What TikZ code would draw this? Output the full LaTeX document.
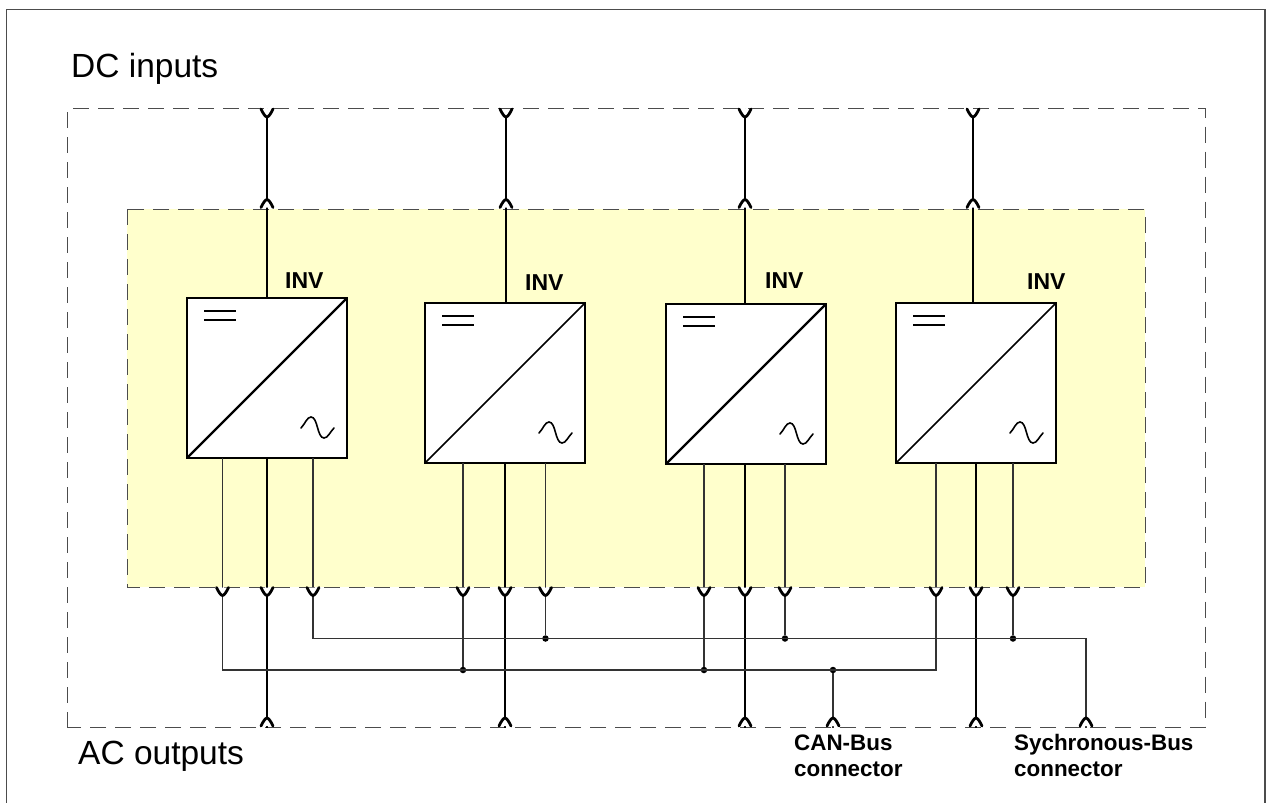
\documentclass[tikz,border=0pt]{standalone}
\usepackage{fontspec}
\setmainfont{Liberation Sans}
\definecolor{panelyellow}{HTML}{FFFFCC}
\tikzset{
  frameline/.style={line width=1.2pt,draw=black!70},
  dashbox/.style={line width=1pt,draw=black!70,dash pattern=on 16pt off 9pt},
  invbox/.style={draw=black,fill=white,line width=2.2pt,minimum width=160pt,minimum height=160pt,inner sep=0pt,outer sep=0pt},
  heavy/.style={line width=2.4pt,draw=black},
  medium/.style={line width=1.9pt,draw=black},
  thin wire/.style={line width=1.2pt,draw=black!80},
  junction/.style={circle,fill=black,inner sep=0pt,minimum size=6.5pt},
  biglabel/.style={inner sep=0pt,anchor=base west,font=\fontsize{33.5}{36}\selectfont},
  boldlabel/.style={inner sep=0pt,anchor=base west,font=\fontsize{23}{24}\selectfont\bfseries},
  smalllabel/.style={inner sep=0pt,anchor=base west,font=\fontsize{22.4}{24}\selectfont\bfseries},
  vmark/.pic={\draw[line width=2.8pt,line cap=round,fill=white] (-6,0.5) .. controls (-4,5) and (-1.5,8.5) .. (0,8.5) .. controls (1.5,8.5) and (4,5) .. (6,0.5);},
  amark/.pic={\draw[line width=2.8pt,line cap=round,fill=white] (-6,-1.5) .. controls (-4,-6) and (-1.5,-9.5) .. (0,-9.5) .. controls (1.5,-9.5) and (4,-6) .. (6,-1.5);},
  invsyms/.pic={
    \draw[line width=1.6pt] (17,13) -- (49,13) (17,22) -- (49,22);
    \draw[line width=1.6pt,line cap=round] (114,130) .. controls (118,126) and (120,119) .. (124,119) .. controls (131,119) and (130,140) .. (137,140) .. controls (141,140) and (143,134) .. (147,130);
  }
}
\begin{document}
\begin{tikzpicture}[x=1pt,y=-1pt]
\useasboundingbox (0,0) rectangle (1267,803);
\fill[white] (0,0) rectangle (1267,803);
\draw[frameline] (6.5,803) -- (6.5,9.5) -- (1265,9.5) -- (1265,803);
\draw[dashbox] (67,727.5) -- (67,108.5) -- (1205,108.5) -- (1205,727.5) -- cycle;
\fill[panelyellow] (127,209) rectangle (1145,587);
\draw[dashbox] (127,209) rectangle (1145,587);

% inverter boxes
\node[invbox] (b1) at (267,378) {};
\node[invbox] (b2) at (505,383) {};
\node[invbox] (b3) at (746,384) {};
\node[invbox] (b4) at (976,383) {};
\draw[line width=2.2pt] (b1.south west) -- (b1.north east);
\draw[line width=1.5pt] (b2.south west) -- (b2.north east);
\draw[line width=2.2pt] (b3.south west) -- (b3.north east);
\draw[line width=1.5pt] (b4.south west) -- (b4.north east);
\pic at (b1.north west) {invsyms};
\pic at (b2.north west) {invsyms};
\pic at (b3.north west) {invsyms};
\pic at (b4.north west) {invsyms};

% connector points
\foreach \n/\x in {1/267,2/506,3/745,4/973}{
  \coordinate (ti\n) at (\x,108.5);
  \coordinate (tm\n) at (\x,209);
}
\foreach \n/\x in {1/267,2/505,3/745,4/976}{
  \coordinate (bm\n) at (\x,587);
  \coordinate (be\n) at (\x,727.5);
}
\coordinate (can1) at (222.5,587);
\coordinate (can2) at (463,587);
\coordinate (can3) at (704,587);
\coordinate (can4) at (936,587);
\coordinate (syn1) at (313,587);
\coordinate (syn2) at (545.5,587);
\coordinate (syn3) at (785,587);
\coordinate (syn4) at (1013,587);
\coordinate (canout) at (833,727.5);
\coordinate (synout) at (1086,727.5);
\node[junction] (jc2) at (463,670) {};
\node[junction] (jc3) at (704,670) {};
\node[junction] (jc4) at (833,670) {};
\node[junction] (js2) at (545.5,638.5) {};
\node[junction] (js3) at (785,638.5) {};
\node[junction] (js4) at (1013,638.5) {};

% DC side
\draw[heavy] (ti1) -- (tm1); \draw[medium] (tm1) -- (tm1 |- b1.north);
\draw[heavy] (ti2) -- (tm2); \draw[medium] (tm2) -- (tm2 |- b2.north);
\draw[heavy] (ti3) -- (tm3); \draw[medium] (tm3) -- (tm3 |- b3.north);
\draw[heavy] (ti4) -- (tm4); \draw[medium] (tm4) -- (tm4 |- b4.north);
% AC side
\draw[heavy] (bm1 |- b1.south) -- (be1);
\draw[heavy] (bm2 |- b2.south) -- (be2);
\draw[heavy] (bm3 |- b3.south) -- (be3);
\draw[heavy] (bm4 |- b4.south) -- (be4);
% bus wires inside the panel
\draw[thin wire] (can1 |- b1.south) -- (can1);
\draw[thin wire] (syn1 |- b1.south) -- (syn1);
\draw[thin wire] (can2 |- b2.south) -- (can2);
\draw[thin wire] (syn2 |- b2.south) -- (syn2);
\draw[thin wire] (can3 |- b3.south) -- (can3);
\draw[thin wire] (syn3 |- b3.south) -- (syn3);
\draw[thin wire] (can4 |- b4.south) -- (can4);
\draw[thin wire] (syn4 |- b4.south) -- (syn4);
% CAN bus
\draw[thin wire] (can1) -- (can1 |- jc2) -- (jc2.center) -- (jc3.center) -- (jc4.center) -- (can4 |- jc4) -- (can4);
\draw[thin wire] (can2) -- (jc2);
\draw[thin wire] (can3) -- (jc3);
\draw[thin wire] (jc4) -- (canout);
% synchronous bus
\draw[thin wire] (syn1) -- (syn1 |- js2) -- (js2.center) -- (js3.center) -- (js4.center) -- (synout |- js4) -- (synout);
\draw[thin wire] (syn2) -- (js2);
\draw[thin wire] (syn3) -- (js3);
\draw[thin wire] (syn4) -- (js4);

% connector symbols
\foreach \n in {1,2,3,4}{
  \pic at (ti\n) {vmark};
  \pic at (tm\n) {amark};
  \pic at (bm\n) {vmark};
  \pic at (be\n) {amark};
}
\foreach \c in {can1,can2,can3,can4,syn1,syn2,syn3,syn4}{\pic at (\c) {vmark};}
\pic at (canout) {amark};
\pic at (synout) {amark};

% labels
\node[biglabel] (dc) at (71,77) {DC inputs};
\node[biglabel] (ac) at (78,764) {AC outputs};
\node[boldlabel] (i1) at (285,288) {INV};
\node[boldlabel] (i2) at (525,290) {INV};
\node[boldlabel] (i3) at (765,288) {INV};
\node[boldlabel] (i4) at (1027,289) {INV};
\node[smalllabel] (c1) at (794,750) {CAN-Bus};
\node[smalllabel] (c2) at (794,776) {connector};
\node[smalllabel] (s1) at (1014,750) {Sychronous-Bus};
\node[smalllabel] (s2) at (1014,776) {connector};
\end{tikzpicture}
\end{document}
